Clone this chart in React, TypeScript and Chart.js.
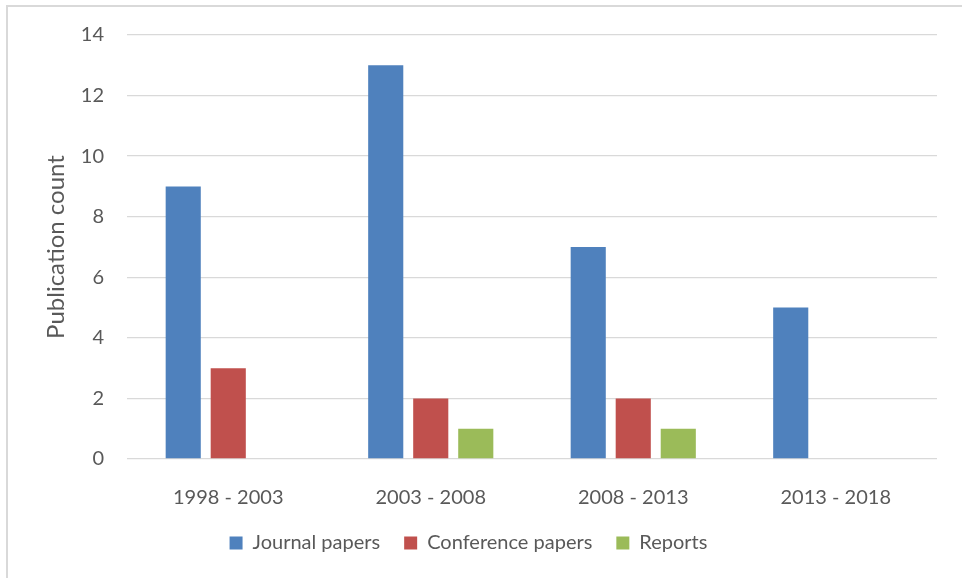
import React, { useEffect, useRef } from "react";
import { Chart, registerables } from "chart.js";

Chart.register(...registerables);

const categories = ["1998 - 2003", "2003 - 2008", "2008 - 2013", "2013 - 2018"];
const journalPapers = [9, 13, 7, 5];
const conferencePapers = [3, 2, 2, 0];
const reports = [0, 1, 1, 0];
const yTitle = "Publication count";

const FONT = "Lato";
const TEXT = "#595959";
const GRID = "#d9d9d9";

export default function App() {
  const ref = useRef<HTMLCanvasElement | null>(null);

  useEffect(() => {
    if (!ref.current) return;
    const chart = new Chart(ref.current, {
      type: "bar",
      data: {
        labels: categories,
        datasets: [
          { label: "Journal papers", data: journalPapers, backgroundColor: "#4F81BD", borderWidth: 0 },
          { label: "Conference papers", data: conferencePapers, backgroundColor: "#C0504D", borderWidth: 0 },
          { label: "Reports", data: reports, backgroundColor: "#9BBB59", borderWidth: 0 },
        ],
      },
      options: {
        animation: false,
        responsive: false,
        maintainAspectRatio: false,
        devicePixelRatio: 1,
        layout: { padding: { left: 0, right: 25, top: 34, bottom: 15 } },
        datasets: {
          bar: { categoryPercentage: 0.667, barPercentage: 0.78 },
        },
        plugins: {
          tooltip: { enabled: false },
          legend: {
            position: "bottom",
            labels: {
              boxWidth: 13,
              boxHeight: 13,
              padding: 24,
              color: TEXT,
              font: { family: FONT, size: 20 },
            },
          },
        },
        scales: {
          x: {
            grid: { display: false },
            border: { display: false },
            ticks: { color: TEXT, padding: 19, font: { family: FONT, size: 20 } },
            afterFit: (s: any) => {
              s.height = 50;
            },
          },
          y: {
            min: 0,
            max: 14,
            ticks: { stepSize: 2, color: TEXT, padding: 23, font: { family: FONT, size: 20 } },
            grid: { color: GRID, lineWidth: 1.3, drawTicks: false },
            border: { display: false },
            title: {
              display: true,
              text: yTitle,
              color: TEXT,
              font: { family: FONT, size: 24 },
              padding: { top: 42, bottom: 0 },
            },
            afterFit: (s: any) => {
              s.width = 127;
            },
          },
        },
      },
    });
    return () => chart.destroy();
  }, []);

  return (
    <div style={{ position: "fixed", left: 0, top: 0, width: 962, height: 578, background: "#fff" }}>
      <div
        style={{
          position: "absolute",
          left: 6,
          top: 5,
          width: 962,
          height: 580,
          borderLeft: `2px solid ${GRID}`,
          borderTop: `2px solid ${GRID}`,
          boxSizing: "border-box",
        }}
      />
      <canvas ref={ref} width={962} height={578} style={{ position: "absolute", left: 0, top: 0 }} />
    </div>
  );
}
